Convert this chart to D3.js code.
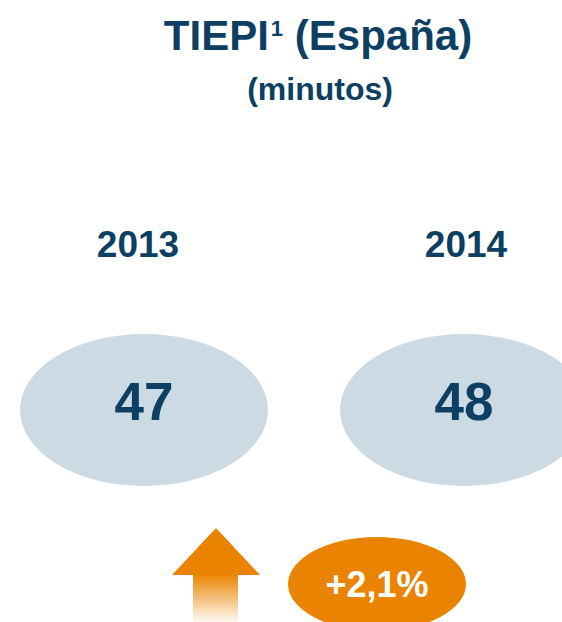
<!DOCTYPE html>
<html>
<head>
<meta charset="utf-8">
<script src="https://cdn.jsdelivr.net/npm/d3@7"></script>
<style>
  body { margin: 0; background: #fff; }
  text { font-family: "Liberation Sans", Arial, sans-serif; font-weight: bold; }
</style>
</head>
<body>
<svg width="562" height="622"></svg>
<script>
// data
var years = ['2013', '2014'];
var values = [47, 48];
var changeLabel = '+2,1%';

var svg = d3.select('svg');
var navy = '#0d3f62';
var orange = '#ea8400';

// x positions for the bubbles and the year labels
var xScale = d3.scalePoint()
    .domain(years)
    .range([144, 464]);
var labelScale = d3.scalePoint()
    .domain(years)
    .range([138, 466]);

// title
var title = svg.append('text')
    .attr('x', 318)
    .attr('y', 50)
    .attr('text-anchor', 'middle')
    .attr('fill', navy)
    .style('font-size', '42px');
title.append('tspan').text('TIEPI');
title.append('tspan').text('1')
    .style('font-size', '22px')
    .attr('dx', 2)
    .attr('dy', -14);
title.append('tspan').text(' (España)')
    .attr('dy', 14);

svg.append('text')
    .attr('x', 320)
    .attr('y', 100)
    .attr('text-anchor', 'middle')
    .attr('fill', navy)
    .style('font-size', '32px')
    .text('(minutos)');

// year labels
svg.selectAll('.year')
    .data(years)
    .enter()
    .append('text')
    .attr('class', 'year')
    .attr('x', d => labelScale(d))
    .attr('y', 257)
    .attr('text-anchor', 'middle')
    .attr('fill', navy)
    .style('font-size', '37px')
    .text(d => d);

// ellipses with values
var pts = years.map((y, i) => ({ year: y, value: values[i] }));

svg.selectAll('.bubble')
    .data(pts)
    .enter()
    .append('ellipse')
    .attr('class', 'bubble')
    .attr('cx', d => xScale(d.year))
    .attr('cy', 410)
    .attr('rx', 124)
    .attr('ry', 76)
    .attr('fill', '#cbdae3');

svg.selectAll('.val')
    .data(pts)
    .enter()
    .append('text')
    .attr('class', 'val')
    .attr('x', d => xScale(d.year))
    .attr('y', 420)
    .attr('text-anchor', 'middle')
    .attr('fill', navy)
    .style('font-size', '53px')
    .text(d => d.value);

// arrow with fading shaft
var defs = svg.append('defs');
var grad = defs.append('linearGradient')
    .attr('id', 'fade')
    .attr('x1', 0).attr('y1', 0)
    .attr('x2', 0).attr('y2', 1);
grad.append('stop').attr('offset', '0%').attr('stop-color', orange).attr('stop-opacity', 1);
grad.append('stop').attr('offset', '100%').attr('stop-color', orange).attr('stop-opacity', 0.05);

svg.append('path')
    .attr('d', 'M216,528 L260,575 L172,575 Z')
    .attr('fill', orange);
svg.append('rect')
    .attr('x', 193)
    .attr('y', 574)
    .attr('width', 45)
    .attr('height', 48)
    .attr('fill', 'url(#fade)');

// change bubble
svg.append('ellipse')
    .attr('cx', 377)
    .attr('cy', 584)
    .attr('rx', 89)
    .attr('ry', 47)
    .attr('fill', orange);
svg.append('text')
    .attr('x', 377)
    .attr('y', 597)
    .attr('text-anchor', 'middle')
    .attr('fill', '#fff')
    .style('font-size', '36px')
    .text(changeLabel);
</script>
</body>
</html>
